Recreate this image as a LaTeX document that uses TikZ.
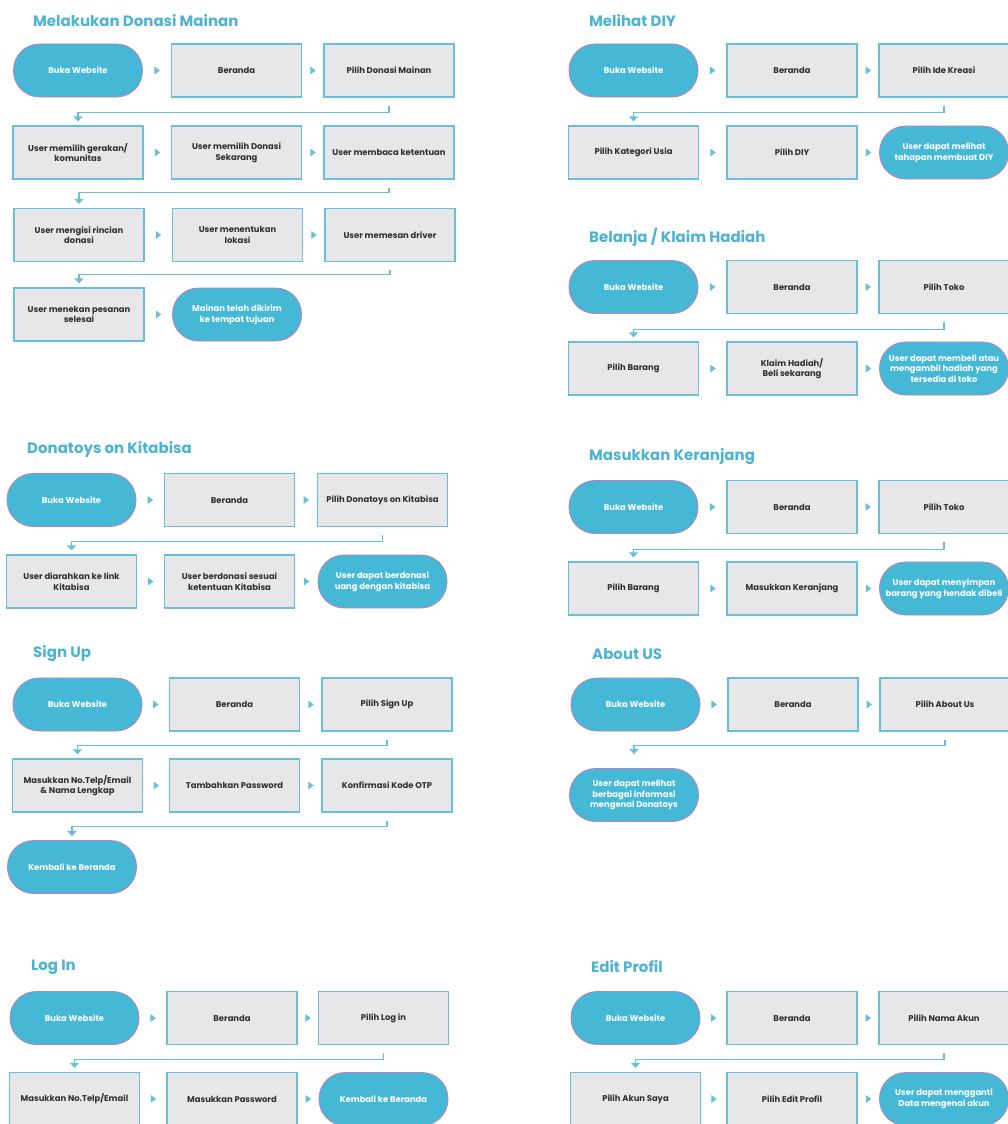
\documentclass[tikz,border=0pt]{standalone}
\usepackage{fontspec}
\setmainfont{Poppins}
\usetikzlibrary{arrows.meta,decorations.markings}
\definecolor{pillfill}{HTML}{45B8D5}
\definecolor{pillline}{HTML}{BE7FC2}
\definecolor{boxfill}{HTML}{E7E7E9}
\definecolor{boxline}{HTML}{68C0D8}
\definecolor{titlecol}{HTML}{4DB3D2}
\definecolor{textdark}{HTML}{303030}
\begin{document}
\begin{tikzpicture}[x=1pt, y=-1pt,
  start/.style={draw=pillline, line width=0.8pt, fill=pillfill, rounded corners=26pt, minimum width=129pt, minimum height=53pt, inner sep=2pt, align=center, text=white, font=\bfseries\fontsize{8.4}{10.6}\selectfont},
  act/.style={draw=boxline, line width=1.2pt, fill=boxfill, minimum width=130pt, minimum height=53pt, inner sep=2pt, align=center, text=textdark, font=\bfseries\fontsize{8.4}{10.6}\selectfont},
  head/.style={anchor=west, inner sep=0pt, text=titlecol, font=\bfseries\fontsize{15}{17}\selectfont},
  link/.style={draw=boxline, line width=1.2pt, shorten <=8pt, shorten >=4pt, -{Triangle[width=9pt,length=5pt]}},
  nexttip/.style={postaction={decorate}, decoration={markings, mark=at position 0.5 with {\fill[boxline] (-2.5,-4) -- (3,0) -- (-2.5,4) -- cycle;}}}]
\useasboundingbox[fill=white] (0,0) rectangle (1008,1124);

% Melakukan Donasi Mainan
\node[head] (tdon) at (33,21) {Melakukan Donasi Mainan};
\node[start] (don1) at (78,70.5) {Buka Website};
\node[act] (don2) at (236.5,70.5) {Beranda};
\node[act] (don3) at (389,70.5) {Pilih Donasi Mainan};
\node[act] (don4) at (78,152.5) {User memilih gerakan/\\komunitas};
\node[act] (don5) at (236.5,152.5) {User memilih Donasi\\Sekarang};
\node[act] (don6) at (389,152.5) {User membaca ketentuan};
\node[act] (don7) at (79,235) {User mengisi rincian\\donasi};
\node[act] (don8) at (237.5,235) {User menentukan\\lokasi};
\node[act] (don9) at (390,235) {User memesan driver};
\node[act] (don10) at (79,314.5) {User menekan pesanan\\selesai};
\node[start] (don11) at (237,314.5) {Mainan telah dikirim\\ke tempat tujuan};
\path[nexttip] (don1) -- (don2);
\path[nexttip] (don2) -- (don3);
\path[nexttip] (don4) -- (don5);
\path[nexttip] (don5) -- (don6);
\path[nexttip] (don7) -- (don8);
\path[nexttip] (don8) -- (don9);
\path[nexttip] (don10) -- (don11);
\draw[link] (don3.south) -- ++(0,15) -| (don4.north);
\draw[link] (don6.south) -- ++(0,13) -| (don7.north);
\draw[link] (don9.south) -- ++(0,12) -| (don10.north);

% Melihat DIY
\node[head] (tdiy) at (589,21) {Melihat DIY};
\node[start] (diy1) at (633.5,70.5) {Buka Website};
\node[act] (diy2) at (792,70.5) {Beranda};
\node[act] (diy3) at (944,70.5) {Pilih Ide Kreasi};
\node[act] (diy4) at (633.5,152.5) {Pilih Kategori Usia};
\node[act] (diy5) at (792,152.5) {Pilih DIY};
\node[start] (diy6) at (944,152.5) {User dapat melihat\\tahapan membuat DIY};
\path[nexttip] (diy1) -- (diy2);
\path[nexttip] (diy2) -- (diy3);
\path[nexttip] (diy4) -- (diy5);
\path[nexttip] (diy5) -- (diy6);
\draw[link] (diy3.south) -- ++(0,15) -| (diy4.north);

% Belanja / Klaim Hadiah
\node[head] (tbel) at (589,237) {Belanja / Klaim Hadiah};
\node[start] (bel1) at (633.5,287) {Buka Website};
\node[act] (bel2) at (792,287) {Beranda};
\node[act] (bel3) at (944,287) {Pilih Toko};
\node[act] (bel4) at (633.5,368.5) {Pilih Barang};
\node[act] (bel5) at (792,368.5) {Klaim Hadiah/\\Beli sekarang};
\node[start] (bel6) at (944,368.5) {User dapat membeli atau\\mengambil hadiah yang\\tersedia di toko};
\path[nexttip] (bel1) -- (bel2);
\path[nexttip] (bel2) -- (bel3);
\path[nexttip] (bel4) -- (bel5);
\path[nexttip] (bel5) -- (bel6);
\draw[link] (bel3.south) -- ++(0,15) -| (bel4.north);

% Donatoys on Kitabisa
\node[head] (tkit) at (27,449) {Donatoys on Kitabisa};
\node[start] (kit1) at (71.5,500) {Buka Website};
\node[act] (kit2) at (229.5,500) {Beranda};
\node[act] (kit3) at (382.5,500) {Pilih Donatoys on Kitabisa};
\node[act] (kit4) at (71.5,581.5) {User diarahkan ke link\\Kitabisa};
\node[act] (kit5) at (229.5,581.5) {User berdonasi sesuai\\ketentuan Kitabisa};
\node[start] (kit6) at (382.5,581.5) {User dapat berdonasi\\uang dengan kitabisa};
\path[nexttip] (kit1) -- (kit2);
\path[nexttip] (kit2) -- (kit3);
\path[nexttip] (kit4) -- (kit5);
\path[nexttip] (kit5) -- (kit6);
\draw[link] (kit3.south) -- ++(0,14) -| (kit4.north);

% Masukkan Keranjang
\node[head] (tker) at (589,457) {Masukkan Keranjang};
\node[start] (ker1) at (633.5,507) {Buka Website};
\node[act] (ker2) at (792,507) {Beranda};
\node[act] (ker3) at (944,507) {Pilih Toko};
\node[act] (ker4) at (633.5,588.5) {Pilih Barang};
\node[act] (ker5) at (792,588.5) {Masukkan Keranjang};
\node[start] (ker6) at (944,588.5) {User dapat menyimpan\\barang yang hendak dibeli};
\path[nexttip] (ker1) -- (ker2);
\path[nexttip] (ker2) -- (ker3);
\path[nexttip] (ker4) -- (ker5);
\path[nexttip] (ker5) -- (ker6);
\draw[link] (ker3.south) -- ++(0,15) -| (ker4.north);

% Sign Up
\node[head] (tsig) at (33,654) {Sign Up};
\node[start] (sig1) at (77.5,704.5) {Buka Website};
\node[act] (sig2) at (234.5,704.5) {Beranda};
\node[act] (sig3) at (387,704.5) {Pilih Sign Up};
\node[act] (sig4) at (77.5,785.5) {Masukkan No.Telp/Email\\\& Nama Lengkap};
\node[act] (sig5) at (234.5,785.5) {Tambahkan Password};
\node[act] (sig6) at (387,785.5) {Konfirmasi Kode OTP};
\node[start] (sig7) at (72,867) {Kembali ke Beranda};
\path[nexttip] (sig1) -- (sig2);
\path[nexttip] (sig2) -- (sig3);
\path[nexttip] (sig4) -- (sig5);
\path[nexttip] (sig5) -- (sig6);
\draw[link] (sig3.south) -- ++(0,14) -| (sig4.north);
\draw[link] (sig6.south) -- ++(0,14) -| (sig7.north);

% About US
\node[head] (tabo) at (592,654) {About US};
\node[start] (abo1) at (635.5,704.5) {Buka Website};
\node[act] (abo2) at (793,704.5) {Beranda};
\node[act] (abo3) at (945,704.5) {Pilih About Us};
\node[start] (abo4) at (634,795) {User dapat melihat\\berbagai informasi\\mengenai Donatoys};
\path[nexttip] (abo1) -- (abo2);
\path[nexttip] (abo2) -- (abo3);
\draw[link, shorten >=14pt] (abo3.south) -- ++(0,14) -| (abo4.north);

% Log In
\node[head] (tlog) at (31,967) {Log In};
\node[start] (log1) at (74.5,1018) {Buka Website};
\node[act] (log2) at (232,1018) {Beranda};
\node[act] (log3) at (383.5,1018) {Pilih Log in};
\node[act] (log4) at (74.5,1099) {Masukkan No.Telp/Email};
\node[act] (log5) at (232,1099) {Masukkan Password};
\node[start] (log6) at (383.5,1099) {Kembali ke Beranda};
\path[nexttip] (log1) -- (log2);
\path[nexttip] (log2) -- (log3);
\path[nexttip] (log4) -- (log5);
\path[nexttip] (log5) -- (log6);
\draw[link] (log3.south) -- ++(0,14) -| (log4.north);

% Edit Profil
\node[head] (tpro) at (591,967) {Edit Profil};
\node[start] (pro1) at (635.5,1018) {Buka Website};
\node[act] (pro2) at (792,1018) {Beranda};
\node[act] (pro3) at (944,1018) {Pilih Nama Akun};
\node[act] (pro4) at (635.5,1099) {Pilih Akun Saya};
\node[act] (pro5) at (792,1099) {Pilih Edit Profil};
\node[start] (pro6) at (944,1099) {User dapat mengganti\\Data mengenai akun};
\path[nexttip] (pro1) -- (pro2);
\path[nexttip] (pro2) -- (pro3);
\path[nexttip] (pro4) -- (pro5);
\path[nexttip] (pro5) -- (pro6);
\draw[link] (pro3.south) -- ++(0,14) -| (pro4.north);
\end{tikzpicture}
\end{document}
